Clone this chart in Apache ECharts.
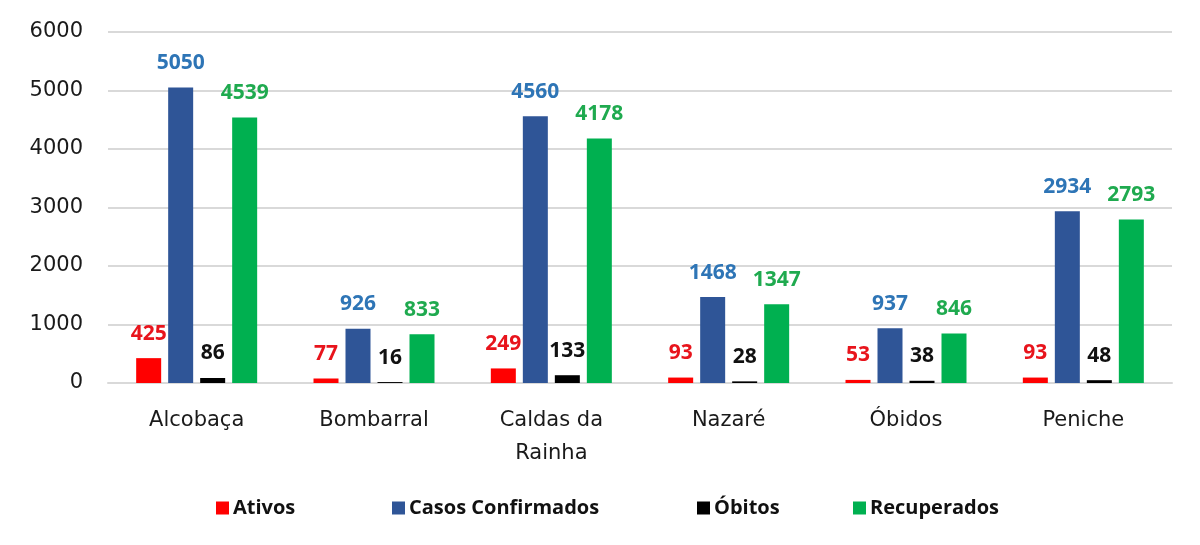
<!DOCTYPE html>
<html><head><meta charset="utf-8">
<script src="https://cdn.jsdelivr.net/npm/echarts@6/dist/echarts.min.js"></script>
<style>html,body{margin:0;padding:0;background:#fff}#c{width:1200px;height:545px}</style>
</head><body><div id="c"></div>
<script>
const categories = ['Alcobaça', 'Bombarral', 'Caldas da\nRainha', 'Nazaré', 'Óbidos', 'Peniche'];
const ativos = [425, 77, 249, 93, 53, 93];
const confirmados = [5050, 926, 4560, 1468, 937, 2934];
const obitos = [86, 16, 133, 28, 38, 48];
const recuperados = [4539, 833, 4178, 1347, 846, 2793];
const seriesNames = ['Ativos', 'Casos Confirmados', 'Óbitos', 'Recuperados'];

const barColors = ['#FF0000', '#2F5597', '#000000', '#00B050'];
const labelColors = ['#E8141C', '#2E75B6', '#111111', '#1FAA4F'];
const datasets = [ativos, confirmados, obitos, recuperados];

const chart = echarts.init(document.getElementById('c'), null, {renderer: 'canvas'});
const legendLefts = [211, 387, 692, 848];
chart.setOption({
  animation: false,
  backgroundColor: '#fff',
  grid: {left: 108, right: 28, top: 32, bottom: 162, containLabel: false},
  legend: seriesNames.map((n, i) => ({
    data: [n], left: legendLefts[i], top: 493, itemWidth: 13, itemHeight: 13, itemGap: 0,
    icon: 'rect', textStyle: {fontFamily: 'Open Sans', fontWeight: 'bold', fontSize: 20, color: '#111', padding: [0, 0, 0, -1]}
  })),
  xAxis: {
    type: 'category', data: categories,
    axisLine: {show: true, lineStyle: {color: '#d9d9d9', width: 2}},
    axisTick: {show: false},
    axisLabel: {fontFamily: 'DejaVu Sans', fontSize: 21, color: '#1a1a1a', margin: 21, lineHeight: 33}
  },
  yAxis: {
    type: 'value', min: 0, max: 6000, interval: 1000,
    axisLine: {show: false}, axisTick: {show: false},
    splitLine: {lineStyle: {color: '#d9d9d9', width: 2}},
    axisLabel: {fontFamily: 'DejaVu Sans', fontSize: 21, color: '#1a1a1a', margin: 25, formatter: v => String(v)}
  },
  series: datasets.map((d, i) => ({
    name: seriesNames[i], type: 'bar', data: d,
    barWidth: 25, barGap: '28%',
    itemStyle: {color: barColors[i]},
    label: {show: true, position: 'top', distance: 14, color: labelColors[i],
      fontFamily: 'Open Sans', fontWeight: 'bold', fontSize: 21}
  }))
});
</script></body></html>
